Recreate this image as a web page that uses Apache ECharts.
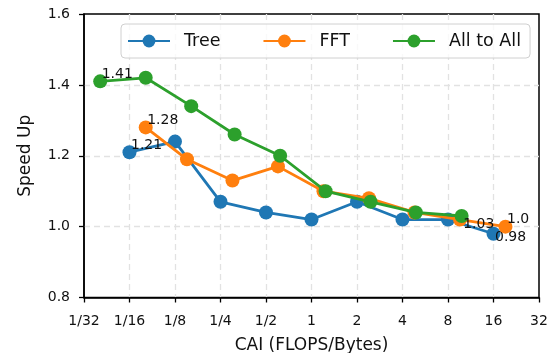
<!DOCTYPE html>
<html>
<head>
<meta charset="utf-8">
<script src="https://cdn.jsdelivr.net/npm/echarts@6/dist/echarts.min.js"></script>
<style>
html,body{margin:0;padding:0;background:#fff;}
#c{width:547px;height:353px;}
</style>
</head>
<body>
<div id="c"></div>
<script>
// ---- data ----
var treeX = [0.0625, 0.125, 0.25, 0.5, 1, 2, 4, 8, 16];
var treeY = [1.21, 1.24, 1.07, 1.04, 1.02, 1.07, 1.02, 1.02, 0.98];
var fftX  = [0.08, 0.15, 0.3, 0.6, 1.2, 2.4, 4.8, 9.6, 19.2];
var fftY  = [1.28, 1.19, 1.13, 1.17, 1.10, 1.08, 1.04, 1.02, 1.00];
var a2aX  = [0.04, 0.08, 0.16, 0.31, 0.62, 1.24, 2.46, 4.9, 9.85];
var a2aY  = [1.41, 1.42, 1.34, 1.26, 1.20, 1.10, 1.07, 1.04, 1.03];
var seriesNames = ['Tree', 'FFT', 'All to All'];
var colors = ['#1f77b4', '#ff7f0e', '#2ca02c'];
var yTicks = ['0.8', '1.0', '1.2', '1.4', '1.6'];
// annotations: [seriesIndex, pointIndex, text, placement]
var notes = [
  [2, 0, '1.41', 'above'],
  [1, 0, '1.28', 'above'],
  [0, 0, '1.21', 'above'],
  [2, 8, '1.03', 'below'],
  [1, 8, '1.0', 'above'],
  [0, 8, '0.98', 'below2']
];

var FONT = 'DejaVu Sans';
var SYM = 14;

function build(xs, ys, si) {
  return xs.map(function (x, i) {
    var item = { value: [x, ys[i]] };
    notes.forEach(function (n) {
      if (n[0] === si && n[1] === i) {
        var dy = n[3] === 'above' ? SYM / 2 : (n[3] === 'below' ? SYM / 2 + 1 : SYM / 2 - 3);
        item.label = {
          show: true,
          formatter: n[2],
          position: [SYM / 2 + 1.5, dy],
          align: 'left',
          verticalAlign: n[3] === 'above' ? 'bottom' : 'top',
          fontFamily: FONT,
          fontSize: 14,
          color: '#111'
        };
      }
    });
    return item;
  });
}

var allX = [treeX, fftX, a2aX];
var allY = [treeY, fftY, a2aY];

var series = seriesNames.map(function (name, si) {
  return {
    name: name,
    type: 'line',
    data: build(allX[si], allY[si], si),
    symbol: 'circle',
    symbolSize: SYM,
    showSymbol: true,
    itemStyle: { color: colors[si] },
    lineStyle: { color: colors[si], width: 2.8 },
    label: { show: false },
    z: 2 + si,
    animation: false
  };
});

var chart = echarts.init(document.getElementById('c'), null, { renderer: 'canvas' });
chart.setOption({
  animation: false,
  backgroundColor: '#fff',
  textStyle: { fontFamily: FONT },
  grid: {
    left: 84, right: 8, top: 14, bottom: 55.5,
    containLabel: false, outerBoundsMode: 'none',
    show: true, borderColor: '#000', borderWidth: 1.5, backgroundColor: 'transparent'
  },
  legend: {
    data: seriesNames,
    left: 121, top: 24,
    padding: [8, 9, 8, 6],
    itemWidth: 42, itemHeight: 16, itemGap: 42,
    borderColor: '#d0d0d0', borderWidth: 1, borderRadius: 4,
    backgroundColor: 'rgba(255,255,255,0.8)',
    textStyle: { fontFamily: FONT, fontSize: 17.5, color: '#111', padding: [0, 0, 0, 9] }
  },
  xAxis: {
    type: 'log', logBase: 2, min: 1 / 32, max: 32, interval: 1,
    name: 'CAI (FLOPS/Bytes)', nameLocation: 'middle', nameGap: 40,
    nameTextStyle: { fontFamily: FONT, fontSize: 17, color: '#111' },
    axisLine: { show: true, lineStyle: { color: '#000', width: 1.5 } },
    axisTick: { show: true, length: 5, lineStyle: { color: '#000', width: 1.3 } },
    axisLabel: {
      fontFamily: FONT, fontSize: 14, color: '#111', margin: 17,
      formatter: function (v) {
        if (v < 1) return '1/' + Math.round(1 / v);
        return String(Math.round(v));
      }
    },
    splitLine: { show: true, showMinLine: false, showMaxLine: false,
      lineStyle: { color: '#e2e2e2', width: 1.3, type: [6, 4] } },
    minorTick: { show: false }, minorSplitLine: { show: false }
  },
  yAxis: {
    type: 'value', min: 0.8, max: 1.6, interval: 0.2,
    name: 'Speed Up', nameLocation: 'middle', nameGap: 50, nameRotate: 90,
    nameTextStyle: { fontFamily: FONT, fontSize: 17, color: '#111' },
    axisLine: { show: true, lineStyle: { color: '#000', width: 1.5 } },
    axisTick: { show: true, length: 5, lineStyle: { color: '#000', width: 1.3 } },
    axisLabel: {
      fontFamily: FONT, fontSize: 14, color: '#111', margin: 14,
      formatter: function (v) {
        var idx = Math.round((v - 0.8) / 0.2);
        return yTicks[idx] !== undefined ? yTicks[idx] : v.toFixed(1);
      }
    },
    splitLine: { show: true, showMinLine: false, showMaxLine: false,
      lineStyle: { color: '#e2e2e2', width: 1.3, type: [6, 4] } }
  },
  series: series
});
</script>
</body>
</html>
